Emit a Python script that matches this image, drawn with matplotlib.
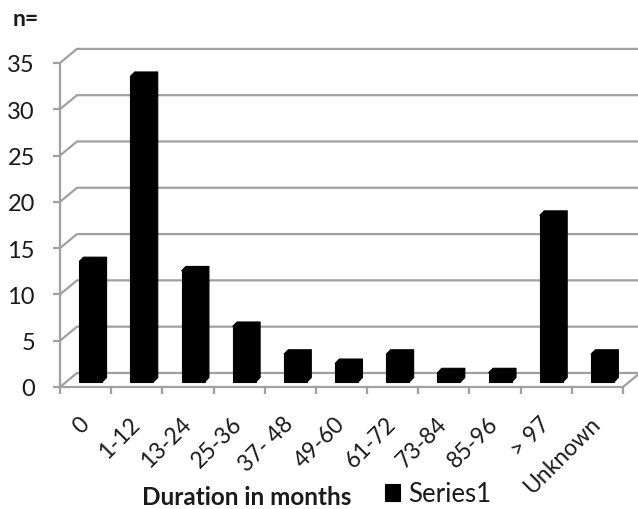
import matplotlib
matplotlib.use("Agg")
import matplotlib.pyplot as plt
from matplotlib.patches import Polygon

plt.rcParams['font.family'] = ['Lato', 'DejaVu Sans']

# Data
categories = ['0', '1-12', '13-24', '25-36', '37- 48', '49-60', '61-72',
              '73-84', '85-96', '> 97', 'Unknown']
counts = [13, 33, 12, 6, 3, 2, 3, 1, 1, 18, 3]
yticks = [0, 5, 10, 15, 20, 25, 30, 35]
series_name = 'Series1'
x_title = 'Duration in months'
y_title = 'n='

# Pseudo-3D geometry (data units)
WALL_DX, WALL_DY = 0.332, 1.515     # back wall offset
FACE_DX, FACE_DY = 0.10, 0.54       # bar front face inset from floor edge
BAR_W = 0.45
DEPTH_DX, DEPTH_DY = 0.085, 0.48    # bar depth

W, H = 638, 510
fig = plt.figure(figsize=(W / 100, H / 100), dpi=100)
fig.patch.set_facecolor('white')

ax_left, ax_right, ax_bottom, ax_top = 60, 638, 388, 40
ax = fig.add_axes([ax_left / W, (H - ax_bottom) / H,
                   (ax_right - ax_left) / W, (ax_bottom - ax_top) / H])
n = len(categories)
xmax = (ax_right - ax_left) / 51.18
ax.set_xlim(0, xmax)
ax.set_ylim(0, (ax_bottom - ax_top) / 9.26)
ax.set_facecolor('none')

grid_c = '#a0a0a0'
text_c = '#1a1a1a'

# Back wall gridlines with their diagonal link to the front axis
for v in yticks:
    ax.plot([0, WALL_DX, xmax], [v, v + WALL_DY, v + WALL_DY],
            color=grid_c, lw=1.6, clip_on=False, zorder=1)
# Right edge of the floor
ax.plot([n, n + WALL_DX], [0, WALL_DY], color=grid_c, lw=1.6,
        clip_on=False, zorder=1)

# Bars: front face
centers = [i + 0.5 for i in range(n)]
bar_x = [c + FACE_DX for c in centers]
bars = ax.bar(bar_x, counts, width=BAR_W, bottom=FACE_DY, color='black',
              edgecolor='black', linewidth=0.8, zorder=3, label=series_name)

# Bars: top and side faces
for xc, v in zip(bar_x, counts):
    x0, x1 = xc - BAR_W / 2, xc + BAR_W / 2
    top = FACE_DY + v
    ax.add_patch(Polygon([(x0, top), (x1, top), (x1 + DEPTH_DX, top + DEPTH_DY),
                          (x0 + DEPTH_DX, top + DEPTH_DY)], closed=True,
                         facecolor='black', edgecolor='black', lw=0.8, zorder=3))
    ax.add_patch(Polygon([(x1, FACE_DY), (x1, top), (x1 + DEPTH_DX, top + DEPTH_DY),
                          (x1 + DEPTH_DX, FACE_DY + DEPTH_DY)], closed=True,
                         facecolor='black', edgecolor='black', lw=0.8, zorder=3))

# Axes lines
for s in ['top', 'right']:
    ax.spines[s].set_visible(False)
ax.spines['left'].set_bounds(0, yticks[-1])
ax.spines['bottom'].set_bounds(0, n)
for s in ['left', 'bottom']:
    ax.spines[s].set_color(grid_c)
    ax.spines[s].set_linewidth(1.6)
    ax.spines[s].set_zorder(2)

ax.set_yticks(yticks)
ax.set_yticklabels([str(t) for t in yticks], fontsize=17, color=text_c)
ax.tick_params(axis='y', length=5, width=1.6, color=grid_c, pad=13)

ax.set_xticks(range(n + 1))
ax.set_xticklabels([])
ax.tick_params(axis='x', which='major', length=5, width=1.6, color=grid_c)
ax.set_xticks(centers, minor=True)
ax.set_xticklabels(categories, minor=True, fontsize=16.5, color=text_c)
ax.tick_params(axis='x', which='minor', length=0, pad=24)
for lbl in ax.get_xticklabels(minor=True):
    lbl.set_rotation(45)
    lbl.set_ha('right')
    lbl.set_va('center')
    lbl.set_rotation_mode('anchor')

# Titles
fig.text(13 / W, 1 - 26 / H, y_title, fontsize=16.5, fontweight='bold',
         color=text_c, va='baseline', ha='left')
fig.text(142 / W, 1 - 505 / H, x_title, fontsize=17.5, fontweight='bold',
         color=text_c, va='baseline', ha='left')

# Legend
ax.legend(handles=[bars], labels=[series_name], loc='lower left',
          bbox_to_anchor=(382 / W, 1 - 510 / H), bbox_transform=fig.transFigure,
          frameon=False, fontsize=18.5, handlelength=0.6, handleheight=0.6,
          handletextpad=0.3, borderpad=0.1, borderaxespad=0, labelcolor=text_c)

fig.savefig('out.png', dpi=100)
